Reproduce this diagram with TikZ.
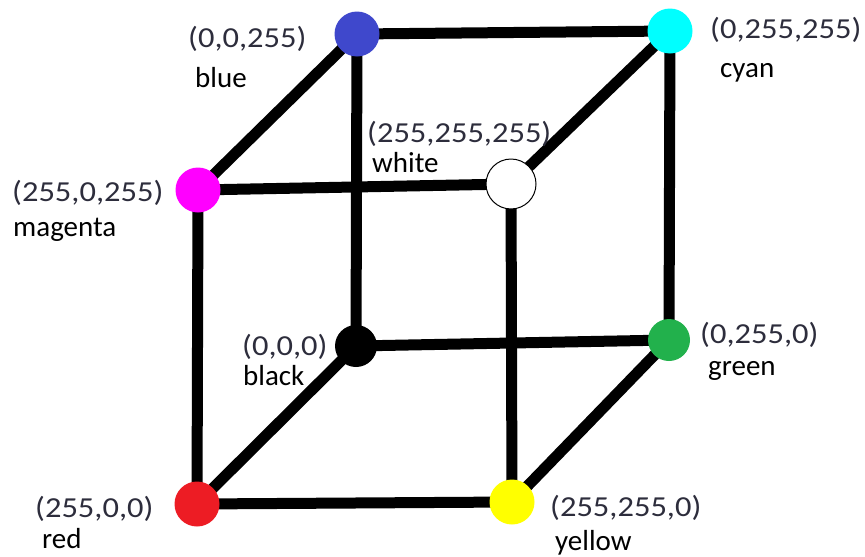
\documentclass[tikz,border=0pt]{standalone}
\usepackage{fontspec}
\setmainfont{Carlito}
\newfontfamily\coordfont[FakeStretch=1.12]{Carlito}
\usepackage{xcolor}
\usetikzlibrary{backgrounds}

\definecolor{coordgray}{RGB}{45,45,60}
\definecolor{pblue}{RGB}{63,72,204}
\definecolor{pcyan}{RGB}{0,255,255}
\definecolor{pmagenta}{RGB}{255,0,255}
\definecolor{pgreen}{RGB}{34,177,76}
\definecolor{pred}{RGB}{237,28,36}
\definecolor{pyellow}{RGB}{255,255,0}

\begin{document}
\begin{tikzpicture}[
    x=1pt, y=-1pt,
    vertex/.style={circle, inner sep=0pt, minimum size=45pt},
    edge/.style={line width=11pt},
    coord/.style={anchor=base west, inner sep=0pt, text=coordgray, font=\coordfont\fontsize{29}{32}\selectfont},
    cname/.style={anchor=base west, inner sep=0pt, text=black, font=\fontsize{29}{32}\selectfont}
]
\useasboundingbox (0,0) rectangle (865,557);

% Corners of the cube
\node[vertex, fill=pblue] (blue) at (357,34) {};
\node[vertex, fill=pcyan] (cyan) at (670,31) {};
\node[vertex, fill=pmagenta] (magenta) at (198,190) {};
\node[vertex, fill=white, draw=black, line width=1pt, minimum size=50pt] (white) at (511,184) {};
\node[vertex, fill=black, minimum size=42pt] (black) at (356,346) {};
\node[vertex, fill=pgreen, minimum size=42pt] (green) at (669,340) {};
\node[vertex, fill=pred] (red) at (197,504) {};
\node[vertex, fill=pyellow] (yellow) at (512,502) {};

% Edges
\begin{scope}[on background layer]
\draw[edge] (blue.center) -- (cyan.center);
\draw[edge] (blue.center) -- (magenta.center);
\draw[edge] (blue.center) -- (black.center);
\draw[edge] (cyan.center) -- (white.center);
\draw[edge] (cyan.center) -- (green.center);
\draw[edge] (magenta.center) -- (white.center);
\draw[edge] (magenta.center) -- (red.center);
\draw[edge] (white.center) -- (yellow.center);
\draw[edge] (black.center) -- (green.center);
\draw[edge] (black.center) -- (red.center);
\draw[edge] (green.center) -- (yellow.center);
\draw[edge] (red.center) -- (yellow.center);
\end{scope}

% Labels
\node[coord] (lblue) at (188,47) {(0,0,255)};
\node[cname] (nblue) at (195,87) {blue};
\node[coord] (lcyan) at (710,38) {(0,255,255)};
\node[cname] (ncyan) at (720,77) {cyan};
\node[coord] (lmagenta) at (12,201) {(255,0,255)};
\node[cname] (nmagenta) at (13,236) {magenta};
\node[coord] (lwhite) at (367,142) {(255,255,255)};
\node[cname] (nwhite) at (372,172) {white};
\node[coord] (lblack) at (242,355) {(0,0,0)};
\node[cname] (nblack) at (243,385) {black};
\node[coord] (lgreen) at (700,343) {(0,255,0)};
\node[cname] (ngreen) at (708,375) {green};
\node[coord] (lred) at (35,517) {(255,0,0)};
\node[cname] (nred) at (42,548) {red};
\node[coord] (lyellow) at (550,516) {(255,255,0)};
\node[cname] (nyellow) at (555,550) {yellow};
\end{tikzpicture}
\end{document}
